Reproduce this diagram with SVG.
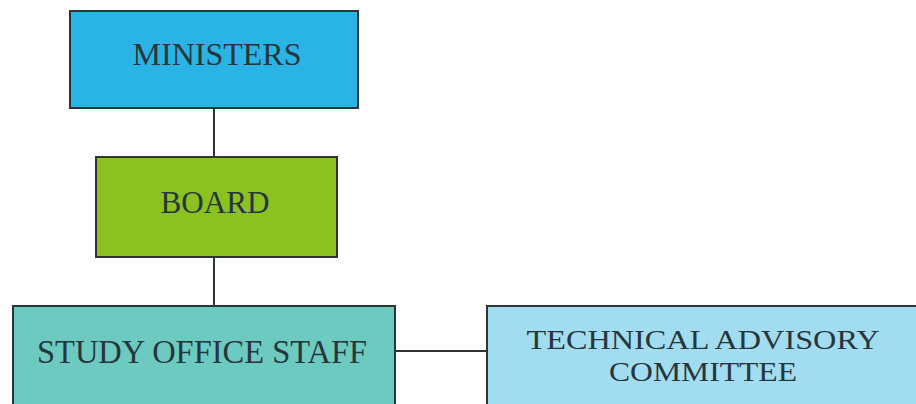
<svg xmlns="http://www.w3.org/2000/svg" width="916" height="404" viewBox="0 0 916 404">
<style>
.box{stroke:#2e3436;stroke-width:2}
.t{font-family:"Liberation Serif","DejaVu Serif",serif;font-size:31px;fill:#27363a;text-anchor:middle}
.s{font-size:28px}
.c{stroke:#2e3436;stroke-width:2;fill:none}
</style>
<rect width="916" height="404" fill="#ffffff"/>
<g id="connectors">
<line class="c" x1="214" y1="108" x2="214" y2="157"/>
<line class="c" x1="214" y1="257" x2="214" y2="306"/>
<line class="c" x1="395" y1="351" x2="487" y2="351"/>
</g>
<g id="ministers">
<rect class="box" x="70" y="11" width="288" height="97" fill="#2ab4e6"/>
<text class="t" x="217" y="65" textLength="169" lengthAdjust="spacingAndGlyphs">MINISTERS</text>
</g>
<g id="board">
<rect class="box" x="96" y="157" width="241" height="100" fill="#8cc21f"/>
<text class="t" x="215" y="213" textLength="109" lengthAdjust="spacingAndGlyphs">BOARD</text>
</g>
<g id="study">
<rect class="box" x="13" y="306" width="382" height="100" fill="#6ccac1"/>
<text class="t" x="202" y="363" style="font-size:33px" textLength="330" lengthAdjust="spacingAndGlyphs">STUDY OFFICE STAFF</text>
</g>
<g id="technical">
<rect class="box" x="487" y="306" width="432" height="100" fill="#a2dcf0"/>
<text class="t s" x="703" y="349" textLength="353" lengthAdjust="spacingAndGlyphs">TECHNICAL ADVISORY</text>
<text class="t s" x="703" y="381" textLength="188" lengthAdjust="spacingAndGlyphs">COMMITTEE</text>
</g>
</svg>
